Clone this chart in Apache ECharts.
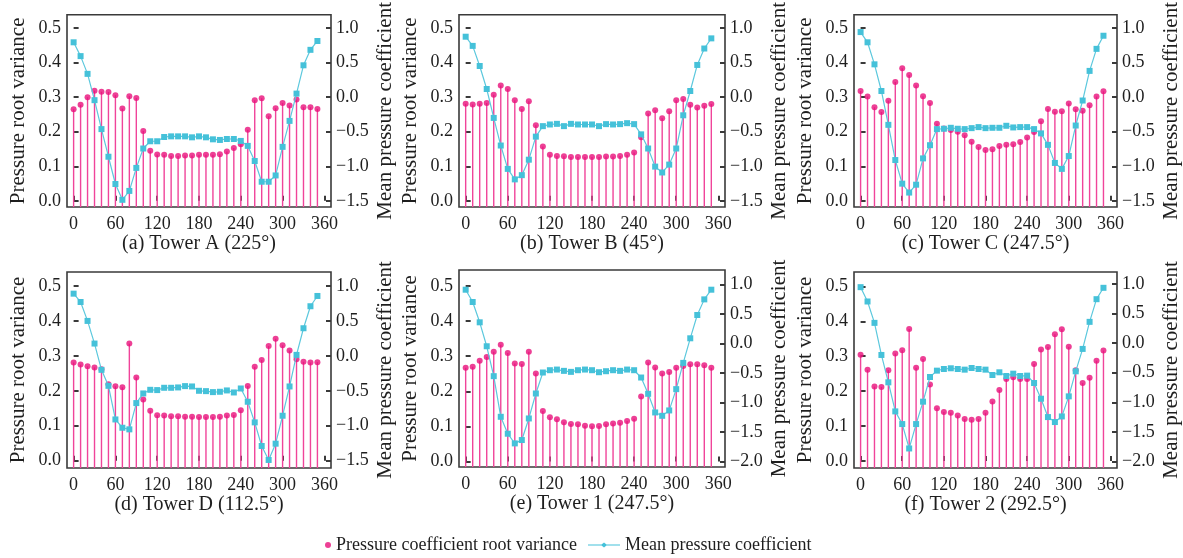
<!DOCTYPE html>
<html>
<head>
<meta charset="utf-8">
<script src="https://cdn.jsdelivr.net/npm/echarts@6/dist/echarts.min.js"></script>
<style>
html,body{margin:0;padding:0;background:#fff;}
#chart{width:1183px;height:558px;}
</style>
</head>
<body>
<div id="chart"></div>
<script>
// ---------- DATA ----------
const angles = [0,10,20,30,40,50,60,70,80,90,100,110,120,130,140,150,160,170,180,190,200,210,220,230,240,250,260,270,280,290,300,310,320,330,340,350];

const rmsA  = [0.265,0.278,0.300,0.319,0.316,0.315,0.306,0.267,0.303,0.298,0.202,0.145,0.134,0.133,0.130,0.130,0.131,0.131,0.133,0.133,0.133,0.135,0.143,0.153,0.164,0.206,0.291,0.297,0.245,0.268,0.283,0.276,0.293,0.271,0.271,0.266];
const meanA = [0.795,0.595,0.338,-0.043,-0.462,-0.862,-1.257,-1.486,-1.357,-1.024,-0.743,-0.638,-0.638,-0.576,-0.567,-0.567,-0.567,-0.581,-0.567,-0.581,-0.610,-0.619,-0.605,-0.605,-0.633,-0.705,-0.924,-1.224,-1.224,-1.133,-0.719,-0.343,0.052,0.462,0.686,0.814];

const rmsB  = [0.281,0.279,0.281,0.283,0.307,0.334,0.324,0.291,0.266,0.288,0.219,0.157,0.133,0.130,0.129,0.127,0.127,0.127,0.127,0.127,0.128,0.128,0.130,0.133,0.140,0.184,0.253,0.262,0.239,0.259,0.291,0.295,0.278,0.270,0.275,0.280];
const meanB = [0.876,0.743,0.452,0.119,-0.300,-0.700,-1.038,-1.190,-1.129,-0.905,-0.571,-0.419,-0.395,-0.386,-0.419,-0.386,-0.395,-0.395,-0.395,-0.419,-0.390,-0.395,-0.390,-0.376,-0.390,-0.538,-0.743,-1.005,-1.090,-0.976,-0.743,-0.262,0.090,0.467,0.705,0.852];

const rmsC  = [0.318,0.302,0.271,0.257,0.290,0.344,0.384,0.364,0.334,0.303,0.283,0.223,0.209,0.205,0.200,0.190,0.171,0.156,0.147,0.149,0.159,0.162,0.164,0.170,0.183,0.199,0.230,0.266,0.258,0.259,0.282,0.265,0.261,0.277,0.302,0.317];
const meanC = [0.943,0.795,0.476,0.090,-0.400,-0.910,-1.252,-1.381,-1.267,-0.886,-0.695,-0.462,-0.457,-0.443,-0.457,-0.462,-0.448,-0.433,-0.448,-0.443,-0.443,-0.414,-0.438,-0.433,-0.433,-0.462,-0.524,-0.690,-0.952,-1.038,-0.852,-0.410,-0.048,0.381,0.700,0.890];

const rmsD  = [0.281,0.275,0.270,0.267,0.262,0.219,0.213,0.210,0.335,0.238,0.175,0.143,0.130,0.129,0.127,0.127,0.126,0.126,0.125,0.125,0.125,0.126,0.129,0.131,0.144,0.214,0.269,0.288,0.328,0.349,0.330,0.315,0.290,0.283,0.281,0.282];
const meanD = [0.890,0.771,0.500,0.176,-0.200,-0.429,-0.910,-1.029,-1.052,-0.676,-0.538,-0.486,-0.490,-0.457,-0.457,-0.452,-0.433,-0.438,-0.500,-0.505,-0.519,-0.514,-0.495,-0.524,-0.467,-0.657,-0.952,-1.290,-1.490,-1.257,-0.857,-0.438,0.014,0.395,0.710,0.857];

const rms1  = [0.267,0.270,0.287,0.298,0.313,0.333,0.309,0.279,0.278,0.313,0.251,0.144,0.126,0.120,0.112,0.107,0.106,0.102,0.100,0.101,0.106,0.108,0.110,0.115,0.122,0.185,0.282,0.268,0.251,0.255,0.267,0.272,0.277,0.277,0.274,0.267];
const mean1 = [0.916,0.707,0.363,-0.043,-0.550,-1.239,-1.526,-1.690,-1.633,-1.267,-0.844,-0.488,-0.449,-0.438,-0.460,-0.477,-0.449,-0.438,-0.449,-0.483,-0.466,-0.449,-0.460,-0.438,-0.449,-0.573,-0.849,-1.165,-1.222,-1.131,-0.770,-0.325,0.092,0.487,0.752,0.916];

const rms2  = [0.304,0.261,0.213,0.212,0.260,0.308,0.317,0.378,0.267,0.292,0.219,0.151,0.140,0.138,0.130,0.120,0.118,0.120,0.138,0.170,0.203,0.235,0.240,0.235,0.235,0.278,0.319,0.326,0.363,0.377,0.327,0.260,0.223,0.238,0.287,0.316];
const mean2 = [0.944,0.702,0.341,-0.201,-0.663,-1.154,-1.368,-1.780,-1.368,-0.990,-0.573,-0.466,-0.438,-0.426,-0.438,-0.449,-0.421,-0.438,-0.449,-0.539,-0.494,-0.556,-0.517,-0.556,-0.550,-0.675,-0.940,-1.250,-1.334,-1.239,-0.900,-0.477,-0.099,0.358,0.741,0.933];

const panelTitles = ['(a) Tower A (225°)','(b) Tower B (45°)','(c) Tower C (247.5°)','(d) Tower D (112.5°)','(e) Tower 1 (247.5°)','(f) Tower 2 (292.5°)'];
const xTicks = [0,60,120,180,240,300,360];
const leftTicks = [0,0.1,0.2,0.3,0.4,0.5];
const rightTicksTop = [-1.5,-1.0,-0.5,0.0,0.5,1.0];
const rightTicksLow = [-2.0,-1.5,-1.0,-0.5,0.0,0.5,1.0];
const rmsSeries  = [rmsA, rmsB, rmsC, rmsD, rms1, rms2];
const meanSeries = [meanA, meanB, meanC, meanD, mean1, mean2];
const legendNames = ['Pressure coefficient root variance','Mean pressure coefficient'];

// ---------- LAYOUT ----------
const layout = [
  {left:67,  top:12,  width:264, height:195, lmin:-0.018, lmax:0.539, rmin:-1.59,  rmax:1.195, rt:rightTicksTop},
  {left:459, top:12,  width:266, height:195, lmin:-0.018, lmax:0.539, rmin:-1.59,  rmax:1.195, rt:rightTicksTop},
  {left:854, top:12,  width:264, height:195, lmin:-0.018, lmax:0.539, rmin:-1.59,  rmax:1.195, rt:rightTicksTop},
  {left:67,  top:272, width:264, height:196, lmin:-0.021, lmax:0.540, rmin:-1.605, rmax:1.20,  rt:rightTicksTop},
  {left:459, top:270, width:266, height:197, lmin:-0.016, lmax:0.546, rmin:-2.09,  rmax:1.25,  rt:rightTicksLow},
  {left:854, top:272, width:264, height:196, lmin:-0.020, lmax:0.541, rmin:-2.11,  rmax:1.20,  rt:rightTicksLow}
];

const FONT = "'Liberation Serif', 'Times New Roman', serif";
const TXT = '#1e1e1e';
const PINK = '#e8107a';
const STEM = '#f0449a';
const CYAN_LINE = '#5cc8dd';
const CYAN_SYM = '#45c1d9';
const FRAME = '#3a3a3a';

const fmt = v => Number(v).toFixed(1).replace('-', '\u2212');

const grids = [], xAxes = [], yAxes = [], series = [];
layout.forEach((L, i) => {
  grids.push({left:L.left, top:L.top, width:L.width, height:L.height, show:true, borderColor:FRAME, borderWidth:1.6, backgroundColor:'transparent'});
  xAxes.push({
    type:'value', gridIndex:i, min:-9.5, max:369.5,
    name: panelTitles[i], nameLocation:'middle', nameGap:22,
    nameTextStyle:{fontFamily:FONT, fontSize:20, color:TXT},
    axisLine:{show:false},
    axisTick:{show:true, inside:true, length:5, customValues:xTicks, lineStyle:{color:FRAME, width:2}},
    axisLabel:{customValues:xTicks, fontFamily:FONT, fontSize:18, color:TXT, margin:8},
    splitLine:{show:false}
  });
  yAxes.push({
    type:'value', gridIndex:i, position:'left', min:L.lmin, max:L.lmax,
    name:'Pressure root variance', nameLocation:'middle', nameRotate:90, nameGap:38,
    nameTextStyle:{fontFamily:FONT, fontSize:21, color:TXT},
    axisLine:{show:false},
    axisTick:{show:true, inside:true, length:5, customValues:leftTicks, lineStyle:{color:FRAME, width:2}},
    axisLabel:{customValues:leftTicks, formatter:fmt, fontFamily:FONT, fontSize:18, color:TXT, margin:6},
    splitLine:{show:false}
  });
  yAxes.push({
    type:'value', gridIndex:i, position:'right', min:L.rmin, max:L.rmax,
    name:'Mean pressure coefficient', nameLocation:'middle', nameRotate:90, nameGap:44,
    nameTextStyle:{fontFamily:FONT, fontSize:21, color:TXT},
    axisLine:{show:false},
    axisTick:{show:true, inside:true, length:5, customValues:L.rt, lineStyle:{color:FRAME, width:2}},
    axisLabel:{customValues:L.rt, formatter:fmt, fontFamily:FONT, fontSize:18, color:TXT, margin:5},
    splitLine:{show:false}
  });
  const rmsData = angles.map((a, k) => [a, rmsSeries[i][k]]);
  const meanData = angles.map((a, k) => [a, meanSeries[i][k]]);
  series.push({
    type:'custom', name:'stem'+i, xAxisIndex:i, yAxisIndex:2*i, z:1, silent:true,
    data: rmsData,
    renderItem:(params, api) => {
      const p = api.coord([api.value(0), api.value(1)]);
      const cs = params.coordSys;
      return {type:'line', shape:{x1:p[0], y1:cs.y + cs.height, x2:p[0], y2:p[1]},
              style:{stroke:STEM, lineWidth:1.4}};
    }
  });
  series.push({
    type:'scatter', name:legendNames[0], xAxisIndex:i, yAxisIndex:2*i, z:3,
    symbol:'circle', symbolSize:6, itemStyle:{color:PINK},
    data: rmsData
  });
  series.push({
    type:'line', name:legendNames[1], xAxisIndex:i, yAxisIndex:2*i+1, z:4,
    symbol:'rect', symbolSize:6, showAllSymbol:true,
    lineStyle:{color:CYAN_LINE, width:1.2}, itemStyle:{color:CYAN_SYM},
    data: meanData
  });
});

const chart = echarts.init(document.getElementById('chart'), null, {renderer:'canvas'});
chart.setOption({
  animation:false,
  backgroundColor:'#ffffff',
  textStyle:{fontFamily:FONT},
  grid:grids, xAxis:xAxes, yAxis:yAxes, series:series,
  legend:[
    {data:[{name:legendNames[0], icon:'circle'}], left:320, top:531, itemWidth:6, itemHeight:6,
     itemStyle:{color:PINK, borderWidth:0},
     textStyle:{fontFamily:FONT, fontSize:18, color:TXT}, selectedMode:false},
    {data:[{name:legendNames[1], icon:'path://M0,2.5 L13.5,2.5 L16,0.5 L18.5,2.5 L32,2.5 L32,3.5 L18.5,3.5 L16,5.5 L13.5,3.5 L0,3.5 Z'}],
     left:583, top:531, itemWidth:32, itemHeight:6,
     itemStyle:{color:CYAN_SYM, borderWidth:0},
     textStyle:{fontFamily:FONT, fontSize:18, color:TXT}, selectedMode:false}
  ]
});
</script>
</body>
</html>
